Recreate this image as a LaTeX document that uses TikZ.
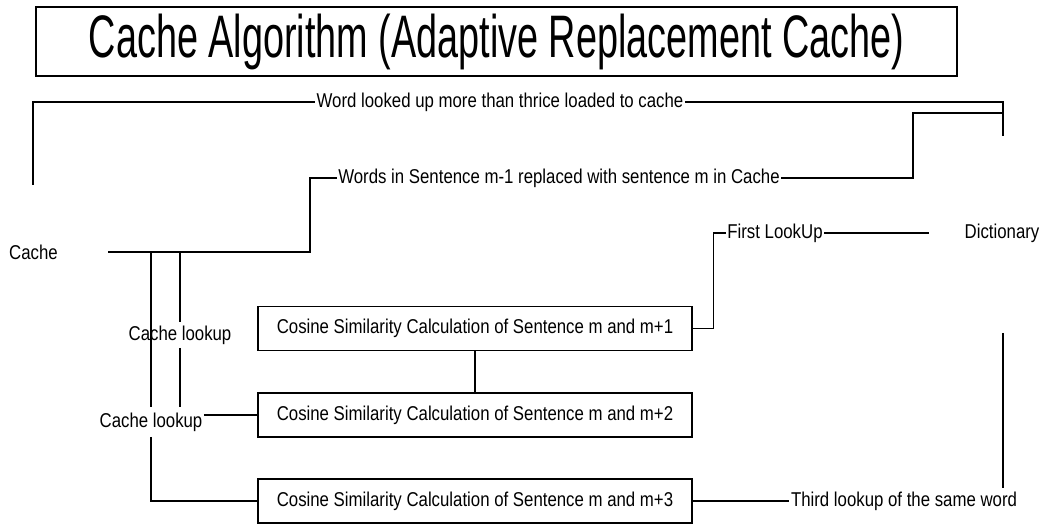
\documentclass[tikz,border=0pt]{standalone}
\usepackage{fontspec}
\setmainfont{Liberation Sans}[FakeStretch=0.84]
\newfontfamily\titlefont{Liberation Sans}[FakeStretch=0.63]
\usetikzlibrary{calc}

\begin{document}
\begin{tikzpicture}[x=1pt, y=-1pt, line width=1.2pt,
  lbl/.style={font=\fontsize{20}{24}\selectfont, inner xsep=1pt, inner ysep=3pt},
  calcbox/.style={draw, minimum width=434pt, minimum height=44pt, font=\fontsize{20}{24}\selectfont},]
\useasboundingbox (0,0) rectangle (1044,526);
\node[draw, minimum width=921pt, minimum height=69pt, font=\titlefont\fontsize{60}{72}\selectfont] (title) at (496.5,41.5) {\raisebox{-2pt}{Cache Algorithm (Adaptive Replacement Cache)}};
\node[lbl] (cache) at (33.5,252) {Cache};
\node[lbl] (dict) at (1002,233) {Dictionary};
\node[calcbox] (b1) at (475,328.5) {Cosine Similarity Calculation of Sentence m and m+1};
\node[calcbox] (b2) at (475,415) {Cosine Similarity Calculation of Sentence m and m+2};
\node[calcbox] (b3) at (475,501) {Cosine Similarity Calculation of Sentence m and m+3};
\node[lbl] (thrice) at (500,102) {Word looked up more than thrice loaded to cache};
\node[lbl] (replace) at (559,178) {Words in Sentence m-1 replaced with sentence m in Cache};
\node[lbl] (first) at (775,233) {First LookUp};
\node[lbl] (lookA) at (180,335) {Cache lookup};
\node[lbl, inner ysep=5pt] (lookB) at (151,422) {Cache lookup};
\node[lbl] (third) at (904,501) {Third lookup of the same word};
\coordinate (cacheTop) at (33,185);
\coordinate (cacheOut) at (108,252);
\coordinate (bendL) at (310,252);
\coordinate (bendR) at (913,113);
\coordinate (dictTop) at (1003,136);
\coordinate (dictFirst) at (929,233);
\coordinate (dictBot) at (1003,333);
% cache <-> dictionary
 \draw (cacheTop) |- (thrice.west);
 \draw (thrice.east) -| (dictTop);
 \draw (cacheOut) -- (bendL) |- (replace.west);
 \draw (replace.east) -| (bendR) -- (bendR -| dictTop);
% cache lookups
 \draw (lookA.north |- cacheOut) -- (lookA.north);
 \draw (lookA.south) -- (lookA.south |- lookB.north);
 \draw (lookB.north |- cacheOut) -- (lookB.north);
 \draw (lookB.south) |- (b3.west);
 \draw (lookB.east |- b2.west) -- (b2.west);
% boxes
 \draw (b1.south) -- (b2.north);
 \draw (b1.east) -- ++(21,0) |- (first.west);
 \draw (first.east) -- (dictFirst);
 \draw (b3.east) -- (third.west);
 \draw (dictBot) -- (dictBot |- third.north);
\end{tikzpicture}
\end{document}
